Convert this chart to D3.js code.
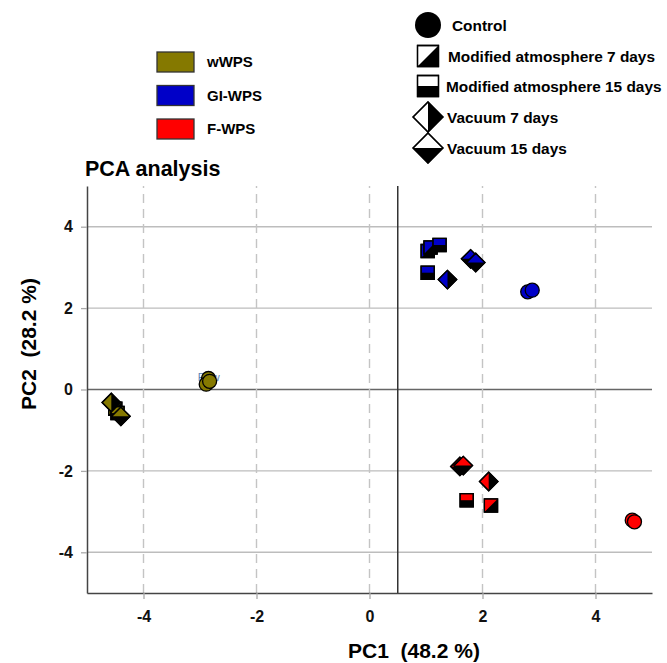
<!DOCTYPE html>
<html>
<head>
<meta charset="utf-8">
<script src="https://cdn.jsdelivr.net/npm/d3@7"></script>
<style>
	body { margin: 0; background: #fff; }
	svg { font-family: 'Liberation Sans', Arial, sans-serif; font-weight: bold; }
</style>
</head>
<body>
<svg id="chart" width="667" height="663"></svg>
<script>
'use strict';

// groups (colour legend) and storage treatments (symbol legend)
var groups = ['wWPS', 'GI-WPS', 'F-WPS'];
var groupColors = ['#857900', '#0000c8', '#ff0000'];
var treatments = ['Control', 'Modified atmosphere 7 days', 'Modified atmosphere 15 days', 'Vacuum 7 days', 'Vacuum 15 days'];
var treatmentShapes = ['circle', 'sqDiag', 'sqHalf', 'diaRight', 'diaBottom'];

// scores: [treatment index, PC1, PC2]
var wwpsScores = [
	[0, -2.85, 0.27], [0, -2.89, 0.13], [0, -2.83, 0.20],
	[1, -4.50, -0.47],
	[2, -4.46, -0.58],
	[3, -4.57, -0.32],
	[4, -4.40, -0.66]
];
var giwpsScores = [
	[0, 2.80, 2.40], [0, 2.88, 2.44],
	[1, 1.03, 3.40], [1, 1.08, 3.49],
	[2, 1.24, 3.55], [2, 1.03, 2.87],
	[3, 1.38, 2.70],
	[4, 1.79, 3.21], [4, 1.88, 3.12]
];
var fwpsScores = [
	[0, 4.65, -3.21], [0, 4.69, -3.25],
	[1, 2.15, -2.85],
	[2, 1.72, -2.72],
	[3, 2.11, -2.26],
	[4, 1.60, -1.89], [4, 1.66, -1.87]
];
var groupScores = [wwpsScores, giwpsScores, fwpsScores];

var xTicks = [-4, -2, 0, 2, 4];
var yTicks = [-4, -2, 0, 2, 4];
var meanLineX = 0.5;

var svg = d3.select('#chart');
var x_scale = d3.scaleLinear().domain([-5, 5]).range([87, 652]);
var y_scale = d3.scaleLinear().domain([-5, 5]).range([593, 186]);

// shape outlines for one marker, centred on 0,0
function markerPaths(shape, s) {
	if (shape === 'circle') {
		return { outline: d3.symbol(d3.symbolCircle, Math.PI * s * s)(), half: null };
	}
	if (shape === 'sqDiag' || shape === 'sqHalf') {
		var sq = 'M' + (-s) + ',' + (-s) + 'H' + s + 'V' + s + 'H' + (-s) + 'Z';
		var h = shape === 'sqDiag'
			? 'M' + s + ',' + (-s) + 'L' + s + ',' + s + 'L' + (-s) + ',' + s + 'Z'
			: 'M' + (-s) + ',0H' + s + 'V' + s + 'H' + (-s) + 'Z';
		return { outline: sq, half: h };
	}
	var d = s * 1.4;
	var dia = 'M0,' + (-d) + 'L' + d + ',0L0,' + d + 'L' + (-d) + ',0Z';
	var hd = shape === 'diaRight'
		? 'M0,' + (-d) + 'L' + d + ',0L0,' + d + 'Z'
		: 'M' + (-d) + ',0L' + d + ',0L0,' + d + 'Z';
	return { outline: dia, half: hd };
}

function drawMarker(g, shape, s, fill) {
	var p = markerPaths(shape, s);
	g.append('path').attr('d', p.outline).attr('fill', fill)
		.attr('stroke', '#000').attr('stroke-width', 1.3);
	if (p.half) {
		g.append('path').attr('d', p.half).attr('fill', '#000');
		g.append('path').attr('d', p.outline).attr('fill', 'none')
			.attr('stroke', '#000').attr('stroke-width', 1.3);
	}
}

// grid
var grid = svg.append('g');
grid.selectAll('line.hgrid')
	.data(yTicks)
	.enter().append('line')
	.attr('x1', x_scale(-5)).attr('x2', x_scale(5))
	.attr('y1', function(d) { return y_scale(d); })
	.attr('y2', function(d) { return y_scale(d); })
	.attr('stroke', function(d) { return d === 0 ? '#666' : '#bdbdbd'; })
	.attr('stroke-width', function(d) { return d === 0 ? 1.6 : 1.4; });
grid.selectAll('line.vgrid')
	.data(xTicks)
	.enter().append('line')
	.attr('x1', function(d) { return x_scale(d); })
	.attr('x2', function(d) { return x_scale(d); })
	.attr('y1', y_scale(-5)).attr('y2', y_scale(5))
	.attr('stroke', '#c4c4c4').attr('stroke-width', 1.4)
	.attr('stroke-dasharray', '9,6');
grid.append('line')
	.attr('x1', x_scale(meanLineX)).attr('x2', x_scale(meanLineX))
	.attr('y1', y_scale(-5)).attr('y2', y_scale(5))
	.attr('stroke', '#333').attr('stroke-width', 1.5);

// small sample label under the raw control points
svg.append('text')
	.attr('x', x_scale(-3.04)).attr('y', y_scale(0.2))
	.attr('font-size', 11).attr('font-weight', 'normal')
	.attr('fill', '#5b7fb3')
	.text('Raw');

// points
groupScores.forEach(function(scores, gi) {
	scores.forEach(function(p) {
		var shape = treatmentShapes[p[0]];
		var g = svg.append('g')
			.attr('transform', 'translate(' + x_scale(p[1]) + ',' + y_scale(p[2]) + ')');
		drawMarker(g, shape, shape === 'circle' ? 7 : 6.6, groupColors[gi]);
	});
});

// axes (plain hyphen minus like the original)
var fmt = function(d) { return String(d); };
var xAxis = svg.append('g')
	.attr('transform', 'translate(0,' + y_scale(-5) + ')')
	.call(d3.axisBottom(x_scale).tickValues(xTicks).tickFormat(fmt).tickSize(6).tickPadding(12).tickSizeOuter(0));
var yAxis = svg.append('g')
	.attr('transform', 'translate(' + x_scale(-5) + ',0)')
	.call(d3.axisLeft(y_scale).tickValues(yTicks).tickFormat(fmt).tickSize(6).tickPadding(8).tickSizeOuter(0));
[xAxis, yAxis].forEach(function(ax) {
	ax.select('.domain').attr('stroke', '#444').attr('stroke-width', 1.5);
	ax.selectAll('.tick line').attr('stroke', '#aaa').attr('stroke-width', 1.3);
	ax.selectAll('.tick text')
		.attr('font-family', 'Liberation Sans, Arial, sans-serif')
		.attr('font-weight', 'bold').attr('font-size', 16).attr('fill', '#111');
});

// titles
svg.append('text').attr('x', 85).attr('y', 176)
	.attr('font-size', 21.5).text('PCA analysis');
svg.append('text').attr('x', 348).attr('y', 658)
	.attr('font-size', 21).style('white-space', 'pre').text('PC1  (48.2 %)');
svg.append('text')
	.attr('transform', 'translate(36,410) rotate(-90)')
	.attr('font-size', 21).style('white-space', 'pre').text('PC2  (28.2 %)');

// colour legend
var colourLegend = svg.append('g').selectAll('g')
	.data(groups)
	.enter().append('g')
	.attr('transform', function(d, i) { return 'translate(157,' + (52 + i * 33.5) + ')'; });
colourLegend.append('rect')
	.attr('width', 37).attr('height', 20)
	.attr('fill', function(d, i) { return groupColors[i]; })
	.attr('stroke', '#333').attr('stroke-width', 1.3);
colourLegend.append('text')
	.attr('x', 50).attr('y', 10).attr('dy', '0.36em')
	.attr('font-size', 15)
	.text(function(d) { return d; });

// symbol legend
var legendRows = [25, 56, 86, 117, 148];
var legendTextX = [452, 448, 446, 447, 447];
treatments.forEach(function(t, i) {
	var g = svg.append('g').attr('transform', 'translate(428,' + legendRows[i] + ')');
	var shape = treatmentShapes[i];
	if (shape === 'circle') {
		g.append('circle').attr('r', 13).attr('fill', '#000');
	} else if (shape === 'sqDiag' || shape === 'sqHalf') {
		drawMarker(g, shape, 10.5, '#fff');
	} else {
		drawMarker(g, shape, 10.7, '#fff');
	}
	svg.append('text')
		.attr('x', legendTextX[i]).attr('y', legendRows[i]).attr('dy', '0.36em')
		.attr('font-size', 15.4).text(t);
});
</script>
</body>
</html>
